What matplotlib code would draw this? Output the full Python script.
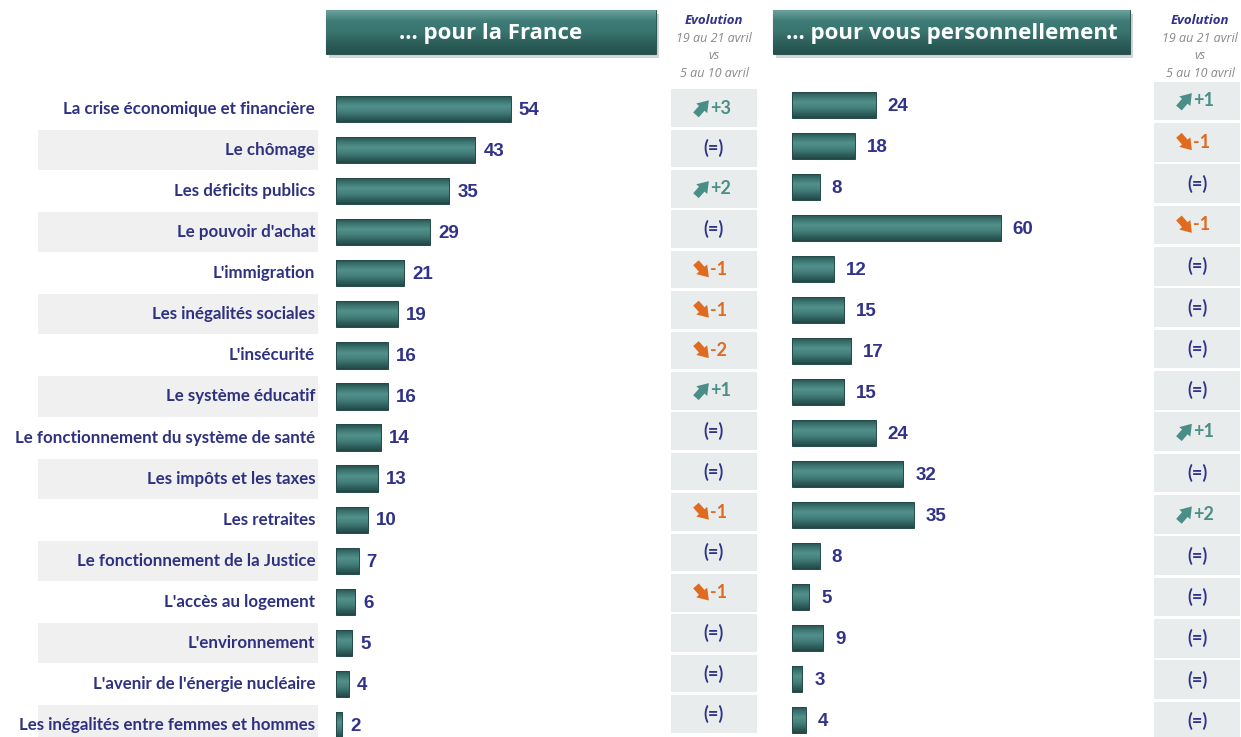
import numpy as np
import matplotlib.pyplot as plt
from matplotlib.colors import LinearSegmentedColormap
from matplotlib.patches import Rectangle

# donnees
items = ["La crise économique et financière", "Le chômage", "Les déficits publics",
         "Le pouvoir d'achat", "L'immigration", "Les inégalités sociales", "L'insécurité",
         "Le système éducatif", "Le fonctionnement du système de santé",
         "Les impôts et les taxes", "Les retraites", "Le fonctionnement de la Justice",
         "L'accès au logement", "L'environnement", "L'avenir de l'énergie nucléaire",
         "Les inégalités entre femmes et hommes"]
france = [54, 43, 35, 29, 21, 19, 16, 16, 14, 13, 10, 7, 6, 5, 4, 2]
evo_france = ["+3", "=", "+2", "=", "-1", "-1", "-2", "+1", "=", "=", "-1", "=", "-1", "=", "=", "="]
perso = [24, 18, 8, 60, 12, 15, 17, 15, 24, 32, 35, 8, 5, 9, 3, 4]
evo_perso = ["+1", "-1", "=", "-1", "=", "=", "=", "=", "+1", "=", "+2", "=", "=", "=", "=", "="]

titles = ["... pour la France", "... pour vous personnellement"]
evo_head = ["Evolution", "19 au 21 avril", "vs", "5 au 10 avril"]

W, H = 1241, 737
NAVY = '#31338a'
LABEL = '#2e3180'
UP = '#4a8e88'
DOWN = '#e06a1e'

bar_cmap = LinearSegmentedColormap.from_list(
    'bar', ['#244d4b', '#3b736f', '#52908b', '#47837e', '#336663', '#214745'])
head_cmap = LinearSegmentedColormap.from_list(
    'head', ['#6aa19c', '#3f7c77', '#3a746f', '#2d5f5b', '#24504c'])

fig = plt.figure(figsize=(W / 100, H / 100), dpi=100)
fig.patch.set_facecolor('white')


def px_axes(x0, x1, ytop, ybot):
    # positionne un axe en pixels (origine en haut a gauche)
    return fig.add_axes([x0 / W, 1 - ybot / H, (x1 - x0) / W, (ybot - ytop) / H])


n = len(items)
rows = np.arange(n)

# --- colonne des libelles ---
step = 41.07
top, bot = 109 - step / 2, 109 + step * (n - 1) + step / 2
axl = px_axes(38, 318, top, bot)
axl.set_xlim(0, 1)
axl.set_ylim(n - 0.5, -0.5)
axl.axis('off')
for i in rows:
    if i % 2 == 1:
        axl.add_patch(Rectangle((0, i - 0.49), 1, 0.98, color='#f0f0f0', lw=0))
    axl.text(0.99, i, items[i], ha='right', va='center', fontsize=12.2,
             fontweight='bold', color=LABEL, family='Lato', clip_on=False)


def draw_bars(ax, vals, xmax):
    ax.set_xlim(0, xmax)
    ax.set_ylim(n - 0.5, -0.5)
    ax.axis('off')
    hb = 0.64
    bars = ax.barh(rows, vals, height=hb, color='#2f605d', edgecolor='#234a48',
                   lw=0.7, zorder=4)
    grad = np.linspace(0, 1, 64).reshape(-1, 1)
    for b, v, i in zip(bars, vals, rows):
        b.set_facecolor('none')
        im = ax.imshow(grad, cmap=bar_cmap, aspect='auto', origin='upper',
                       extent=[0, v, i + hb / 2, i - hb / 2], zorder=3)
        im.set_clip_path(b)
        ax.text(v + xmax * 0.035, i + 0.03, str(v), ha='left', va='center',
                fontsize=13.5, fontweight='bold', color=NAVY, family='Liberation Sans')
    ax.set_xlim(0, xmax)
    ax.set_ylim(n - 0.5, -0.5)


def draw_evo(ax, evos):
    ax.set_xlim(0, 1)
    ax.set_ylim(n - 0.5, -0.5)
    ax.axis('off')
    ax.barh(rows, [1] * n, height=0.93, color='#e8ecec', lw=0)
    style = 'simple,head_length=0.55,head_width=0.75,tail_width=0.38'
    for i, e in zip(rows, evos):
        if e == '=':
            ax.text(0.5, i, '(=)', ha='center', va='center', fontsize=13,
                    fontweight='bold', color=NAVY, family='Lato')
            continue
        col = UP if e.startswith('+') else DOWN
        if e.startswith('+'):
            p0, p1 = (0.29, i + 0.17), (0.44, i - 0.19)
        else:
            p0, p1 = (0.29, i - 0.17), (0.44, i + 0.19)
        ax.annotate('', xy=p1, xytext=p0,
                    arrowprops=dict(arrowstyle=style, color=col, lw=0,
                                    mutation_scale=14, shrinkA=0, shrinkB=0))
        ax.text(0.45, i, e, ha='left', va='center', fontsize=13,
                fontweight='bold', color=col, family='Lato')


# barres France
ax1 = px_axes(336, 563, top, bot)
draw_bars(ax1, france, 227 / 3.24)

# evolution France
s = 40.4
ax2 = px_axes(671, 757, 108 - s / 2, 108 + s * (n - 1) + s / 2)
draw_evo(ax2, evo_france)

# barres perso
s = 41.0
ax3 = px_axes(792, 1130, 105 - s / 2, 105 + s * (n - 1) + s / 2)
draw_bars(ax3, perso, 338 / 3.48)

# evolution perso
s = 41.33
ax4 = px_axes(1154, 1240, 101 - s / 2, 101 + s * (n - 1) + s / 2)
draw_evo(ax4, evo_perso)

# --- en-tetes ---
axh = fig.add_axes([0, 0, 1, 1], zorder=5)
axh.set_xlim(0, W)
axh.set_ylim(H, 0)
axh.axis('off')
axh.patch.set_alpha(0)

for (x0, x1), t in zip([(326, 656), (773, 1130)], titles):
    # ombre
    axh.add_patch(Rectangle((x0 + 3, 14), x1 - x0, 44, color='#b9b9b9', lw=0, alpha=0.6))
    box = Rectangle((x0, 10), x1 - x0, 44, lw=0.8, edgecolor='#2a5956', facecolor='none')
    axh.add_patch(box)
    g = np.linspace(0, 1, 64).reshape(-1, 1)
    im = axh.imshow(g, cmap=head_cmap, aspect='auto', origin='upper',
                    extent=[x0, x1, 54, 10], zorder=2)
    im.set_clip_path(box)
    axh.text((x0 + x1) / 2, 33, t, ha='center', va='center', fontsize=16,
             fontweight='bold', color='white', family='Open Sans', zorder=4)
    axh.set_xlim(0, W)
    axh.set_ylim(H, 0)

for xc in [714, 1200]:
    axh.text(xc, 20, evo_head[0], ha='center', va='center', fontsize=9.5,
             fontweight='bold', style='italic', color=NAVY, family='Open Sans')
    for y, t in zip([38, 55, 73], evo_head[1:]):
        axh.text(xc, y, t, ha='center', va='center', fontsize=9,
                 style='italic', color='#8a8a8a', family='Open Sans')

fig.savefig('out.png', dpi=100, facecolor='white')
